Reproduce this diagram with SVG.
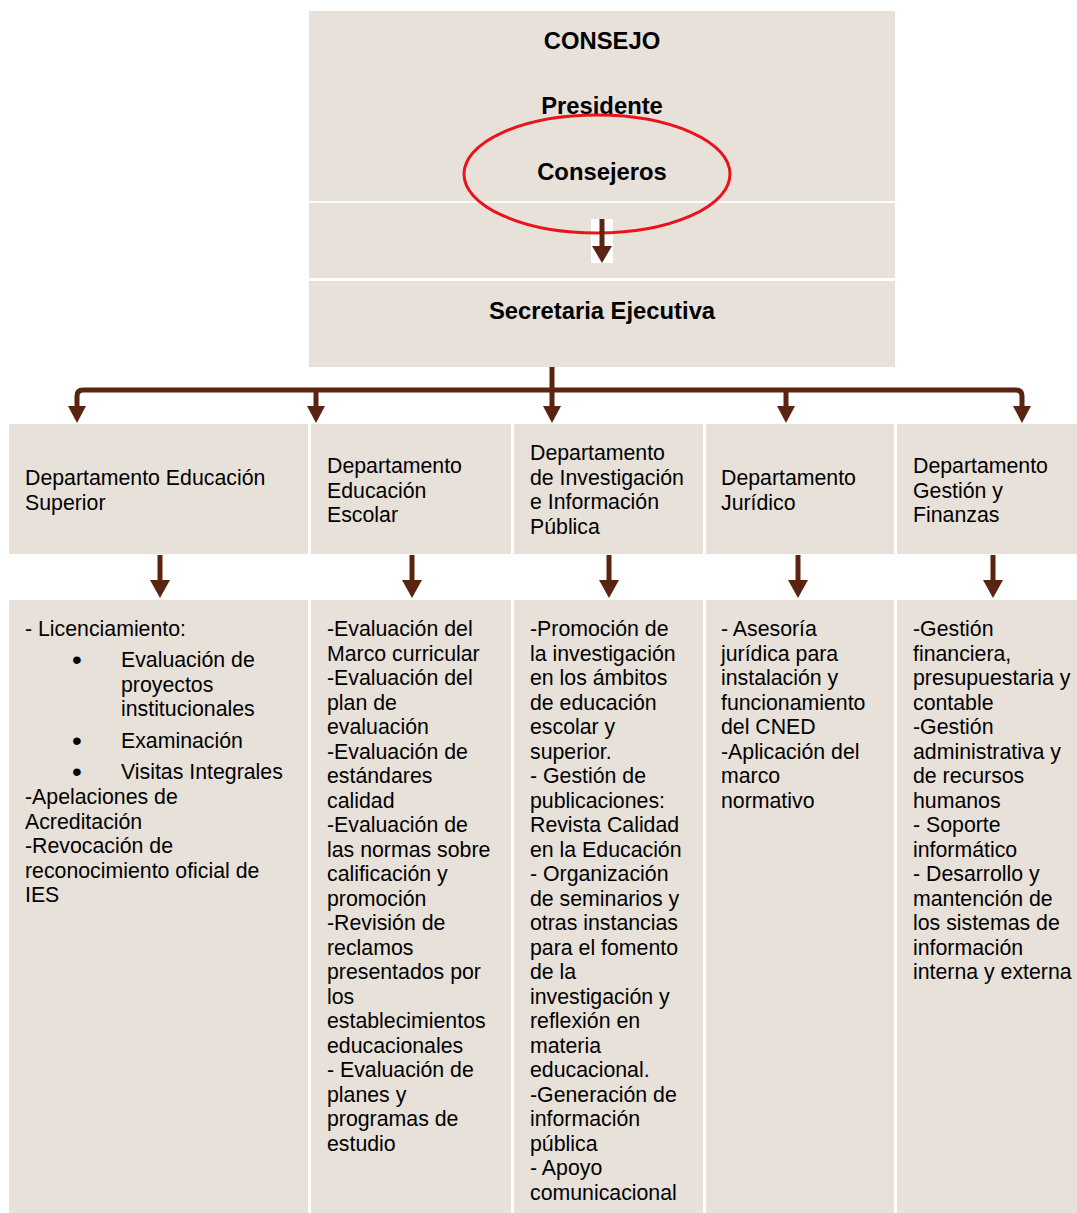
<svg xmlns="http://www.w3.org/2000/svg" width="1077" height="1213" viewBox="0 0 1077 1213">
<style>
.box{fill:#e8e1da}
.t{font-family:"Liberation Sans",Arial,sans-serif;font-size:21.3px;fill:#000}
.b{font-family:"Liberation Sans",Arial,sans-serif;font-size:23.8px;font-weight:bold;fill:#000;text-anchor:middle}
.ln{stroke:#5b2410;stroke-width:5;fill:none}
.hd{fill:#5b2410}
.bul{font-family:"Liberation Sans",Arial,sans-serif;font-size:28px;fill:#000}
</style>
<rect width="1077" height="1213" fill="#fff"/>
<g id="consejo">
<rect class="box" x="309" y="11" width="586" height="190"/>
<rect class="box" x="309" y="203" width="586" height="75"/>
<text class="b" x="602" y="49">CONSEJO</text>
<text class="b" x="602" y="114">Presidente</text>
<text class="b" x="602" y="180">Consejeros</text>
</g>
<g id="secretaria">
<rect class="box" x="309" y="281" width="586" height="86"/>
<text class="b" x="602" y="319">Secretaria Ejecutiva</text>
</g>
<g id="dept1">
<rect class="box" x="9" y="424" width="299" height="130"/>
<text class="t" x="25" y="485">Departamento Educación<tspan x="25" dy="24.5">Superior</tspan></text>
</g>
<g id="dept2">
<rect class="box" x="311" y="424" width="200" height="130"/>
<text class="t" x="327" y="473">Departamento<tspan x="327" dy="24.5">Educación</tspan><tspan x="327" dy="24.5">Escolar</tspan></text>
</g>
<g id="dept3">
<rect class="box" x="514" y="424" width="189" height="130"/>
<text class="t" x="530" y="460">Departamento<tspan x="530" dy="24.5">de Investigación</tspan><tspan x="530" dy="24.5">e Información</tspan><tspan x="530" dy="24.5">Pública</tspan></text>
</g>
<g id="dept4">
<rect class="box" x="706" y="424" width="188" height="130"/>
<text class="t" x="721" y="485">Departamento<tspan x="721" dy="24.5">Jurídico</tspan></text>
</g>
<g id="dept5">
<rect class="box" x="897" y="424" width="180" height="130"/>
<text class="t" x="913" y="473">Departamento<tspan x="913" dy="24.5">Gestión y</tspan><tspan x="913" dy="24.5">Finanzas</tspan></text>
</g>
<g id="func1">
<rect class="box" x="9" y="600" width="299" height="613"/>
<text class="t" x="25" y="636">- Licenciamiento:</text>
<text class="bul" x="72" y="669">•</text>
<text class="t" x="121" y="667">Evaluación de<tspan x="121" dy="24.5">proyectos</tspan><tspan x="121" dy="24.5">institucionales</tspan></text>
<text class="bul" x="72" y="750">•</text>
<text class="t" x="121" y="748">Examinación</text>
<text class="bul" x="72" y="781">•</text>
<text class="t" x="121" y="779">Visitas Integrales</text>
<text class="t" x="25" y="804">-Apelaciones de<tspan x="25" dy="24.5">Acreditación</tspan><tspan x="25" dy="24.5">-Revocación de</tspan><tspan x="25" dy="24.5">reconocimiento oficial de</tspan><tspan x="25" dy="24.5">IES</tspan></text>
</g>
<g id="func2">
<rect class="box" x="311" y="600" width="200" height="613"/>
<text class="t" x="327" y="636">-Evaluación del<tspan x="327" dy="24.5">Marco curricular</tspan><tspan x="327" dy="24.5">-Evaluación del</tspan><tspan x="327" dy="24.5">plan de</tspan><tspan x="327" dy="24.5">evaluación</tspan><tspan x="327" dy="24.5">-Evaluación de</tspan><tspan x="327" dy="24.5">estándares</tspan><tspan x="327" dy="24.5">calidad</tspan><tspan x="327" dy="24.5">-Evaluación de</tspan><tspan x="327" dy="24.5">las normas sobre</tspan><tspan x="327" dy="24.5">calificación y</tspan><tspan x="327" dy="24.5">promoción</tspan><tspan x="327" dy="24.5">-Revisión de</tspan><tspan x="327" dy="24.5">reclamos</tspan><tspan x="327" dy="24.5">presentados por</tspan><tspan x="327" dy="24.5">los</tspan><tspan x="327" dy="24.5">establecimientos</tspan><tspan x="327" dy="24.5">educacionales</tspan><tspan x="327" dy="24.5">- Evaluación de</tspan><tspan x="327" dy="24.5">planes y</tspan><tspan x="327" dy="24.5">programas de</tspan><tspan x="327" dy="24.5">estudio</tspan></text>
</g>
<g id="func3">
<rect class="box" x="514" y="600" width="189" height="613"/>
<text class="t" x="530" y="636">-Promoción de<tspan x="530" dy="24.5">la investigación</tspan><tspan x="530" dy="24.5">en los ámbitos</tspan><tspan x="530" dy="24.5">de educación</tspan><tspan x="530" dy="24.5">escolar y</tspan><tspan x="530" dy="24.5">superior.</tspan><tspan x="530" dy="24.5">- Gestión de</tspan><tspan x="530" dy="24.5">publicaciones:</tspan><tspan x="530" dy="24.5">Revista Calidad</tspan><tspan x="530" dy="24.5">en la Educación</tspan><tspan x="530" dy="24.5">- Organización</tspan><tspan x="530" dy="24.5">de seminarios y</tspan><tspan x="530" dy="24.5">otras instancias</tspan><tspan x="530" dy="24.5">para el fomento</tspan><tspan x="530" dy="24.5">de la</tspan><tspan x="530" dy="24.5">investigación y</tspan><tspan x="530" dy="24.5">reflexión en</tspan><tspan x="530" dy="24.5">materia</tspan><tspan x="530" dy="24.5">educacional.</tspan><tspan x="530" dy="24.5">-Generación de</tspan><tspan x="530" dy="24.5">información</tspan><tspan x="530" dy="24.5">pública</tspan><tspan x="530" dy="24.5">- Apoyo</tspan><tspan x="530" dy="24.5">comunicacional</tspan></text>
</g>
<g id="func4">
<rect class="box" x="706" y="600" width="188" height="613"/>
<text class="t" x="721" y="636">- Asesoría<tspan x="721" dy="24.5">jurídica para</tspan><tspan x="721" dy="24.5">instalación y</tspan><tspan x="721" dy="24.5">funcionamiento</tspan><tspan x="721" dy="24.5">del CNED</tspan><tspan x="721" dy="24.5">-Aplicación del</tspan><tspan x="721" dy="24.5">marco</tspan><tspan x="721" dy="24.5">normativo</tspan></text>
</g>
<g id="func5">
<rect class="box" x="897" y="600" width="180" height="613"/>
<text class="t" x="913" y="636">-Gestión<tspan x="913" dy="24.5">financiera,</tspan><tspan x="913" dy="24.5">presupuestaria y</tspan><tspan x="913" dy="24.5">contable</tspan><tspan x="913" dy="24.5">-Gestión</tspan><tspan x="913" dy="24.5">administrativa y</tspan><tspan x="913" dy="24.5">de recursos</tspan><tspan x="913" dy="24.5">humanos</tspan><tspan x="913" dy="24.5">- Soporte</tspan><tspan x="913" dy="24.5">informático</tspan><tspan x="913" dy="24.5">- Desarrollo y</tspan><tspan x="913" dy="24.5">mantención de</tspan><tspan x="913" dy="24.5">los sistemas de</tspan><tspan x="913" dy="24.5">información</tspan><tspan x="913" dy="24.5">interna y externa</tspan></text>
</g>
<g id="connectors">
<rect x="591" y="219" width="22" height="44" fill="#fff"/>
<ellipse cx="597" cy="174" rx="133" ry="59" fill="none" stroke="#e8141c" stroke-width="3"/>
<line class="ln" x1="602" y1="219" x2="602" y2="248"/>
<polygon class="hd" points="592,246 612,246 602,263"/>
<line class="ln" x1="552" y1="367" x2="552" y2="408"/>
<path class="ln" d="M77,408 V396 Q77,390 83,390 H1016 Q1022,390 1022,396 V408"/>
<line class="ln" x1="316" y1="390" x2="316" y2="408"/>
<line class="ln" x1="786" y1="390" x2="786" y2="408"/>
<polygon class="hd" points="68,406 86,406 77,423"/>
<polygon class="hd" points="307,406 325,406 316,423"/>
<polygon class="hd" points="543,406 561,406 552,423"/>
<polygon class="hd" points="777,406 795,406 786,423"/>
<polygon class="hd" points="1013,406 1031,406 1022,423"/>
<line class="ln" x1="160" y1="555" x2="160" y2="584"/>
<line class="ln" x1="412" y1="555" x2="412" y2="584"/>
<line class="ln" x1="609" y1="555" x2="609" y2="584"/>
<line class="ln" x1="798" y1="555" x2="798" y2="584"/>
<line class="ln" x1="993" y1="555" x2="993" y2="584"/>
<polygon class="hd" points="150,580 170,580 160,598"/>
<polygon class="hd" points="402,580 422,580 412,598"/>
<polygon class="hd" points="599,580 619,580 609,598"/>
<polygon class="hd" points="788,580 808,580 798,598"/>
<polygon class="hd" points="983,580 1003,580 993,598"/>
</g>
</svg>
